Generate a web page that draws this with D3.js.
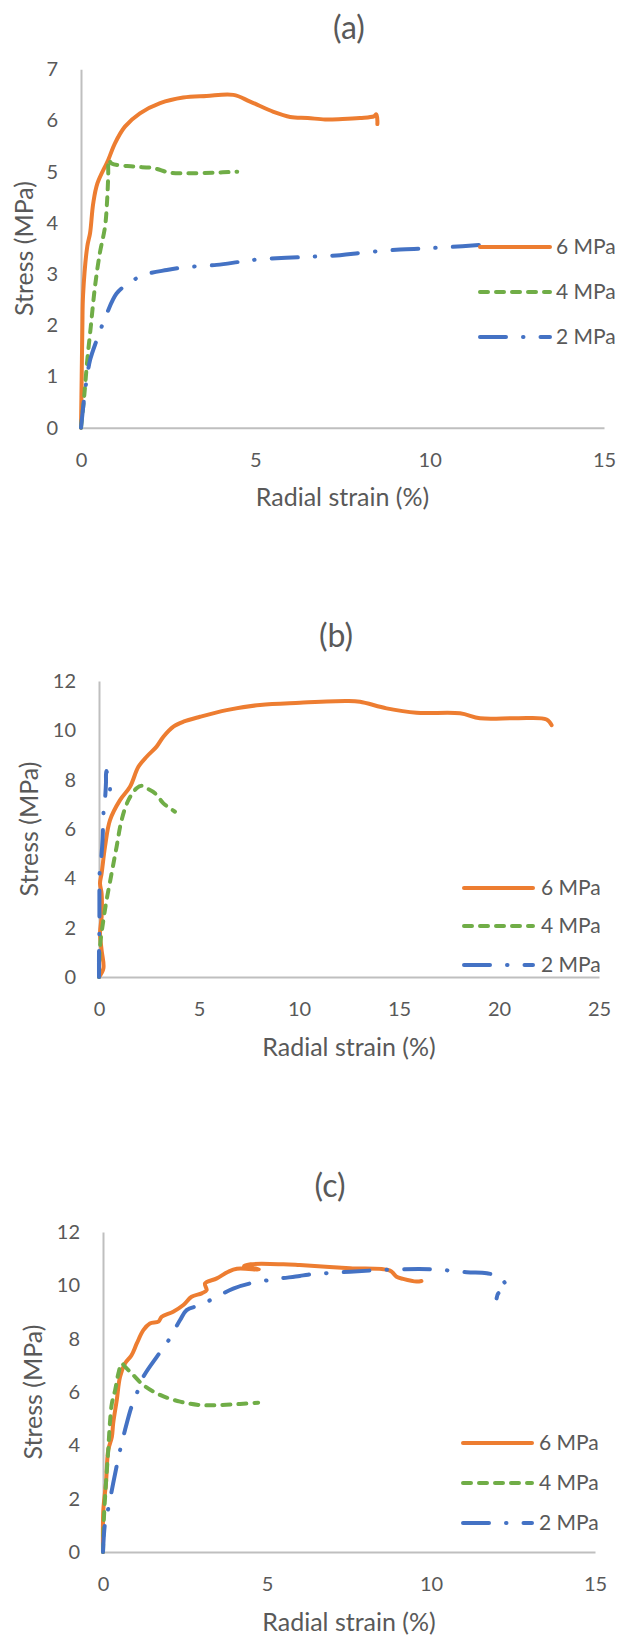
<!DOCTYPE html>
<html>
<head>
<meta charset="utf-8">
<script src="https://cdn.jsdelivr.net/npm/d3@7"></script>
<style>
  html, body { margin: 0; padding: 0; background: #ffffff; }
  svg { display: block; }
  text { font-family: Lato, "Open Sans", sans-serif; fill: #595959; }
</style>
</head>
<body>
<div id="chart"></div>
<script>
// Stress vs radial strain for three confining pressures, three test groups (a), (b), (c)
const panelTitles = ["(a)", "(b)", "(c)"];
const seriesNames = ["6 MPa", "4 MPa", "2 MPa"];
const xAxisTitle = "Radial strain (%)";
const yAxisTitle = "Stress (MPa)";

const xTicksA = [0, 5, 10, 15];
const yTicksA = [0, 1, 2, 3, 4, 5, 6, 7];
const xTicksB = [0, 5, 10, 15, 20, 25];
const yTicksB = [0, 2, 4, 6, 8, 10, 12];
const xTicksC = [0, 5, 10, 15];
const yTicksC = [0, 2, 4, 6, 8, 10, 12];

// (a) [radial strain %, stress MPa]
const a6 = [[0,0],[0.02,1.0],[0.04,2.0],[0.06,2.6],[0.18,3.54],[0.26,3.8],[0.35,4.38],[0.47,4.77],
  [0.78,5.23],[0.97,5.55],[1.26,5.88],[1.69,6.14],[2.27,6.34],[2.93,6.45],[3.6,6.48],[4.37,6.5],
  [4.85,6.37],[5.52,6.17],[6.0,6.07],[6.5,6.05],[7.0,6.02],[7.5,6.03],[8.0,6.05],[8.4,6.08],
  [8.47,6.12],[8.5,6.0],[8.5,5.93]];
const a4 = [[0,0],[0.09,0.6],[0.18,1.32],[0.28,1.97],[0.4,2.75],[0.54,3.41],[0.69,3.93],[0.75,4.45],
  [0.78,4.9],[0.8,5.23],[0.88,5.16],[1.5,5.1],[2.07,5.07],[2.55,4.98],[3.03,4.97],[3.79,4.98],[4.48,5.0]];
const a2 = [[0,0],[0.09,0.57],[0.16,0.93],[0.26,1.32],[0.45,1.71],[0.59,1.97],[0.74,2.23],[1.02,2.62],
  [1.36,2.82],[1.79,2.98],[2.46,3.08],[2.93,3.13],[3.89,3.18],[4.56,3.24],[5.13,3.29],[6.28,3.33],
  [7.43,3.37],[8.1,3.42],[9.15,3.48],[9.82,3.5],[10.58,3.53],[11.44,3.57]];

// (b)
const b6 = [[0,0],[0.22,0.35],[0.13,1.09],[0.05,1.77],[0.13,2.44],[0.13,3.39],[0.05,3.8],[0.13,4.2],
  [0.3,5.28],[0.55,6.36],[1.05,7.17],[1.55,7.71],[1.97,8.52],[2.38,8.93],[2.88,9.34],[3.22,9.74],
  [3.72,10.15],[4.22,10.35],[5.05,10.55],[6.38,10.82],[8.05,11.03],[10.05,11.12],[12.38,11.19],
  [13.05,11.16],[14.38,10.89],[15.88,10.71],[18.05,10.69],[19.05,10.49],[20.88,10.49],[22.38,10.44],
  [22.63,10.21]];
const b4 = [[0,0],[0.05,1.23],[0.22,2.31],[0.38,3.12],[0.63,4.2],[0.88,5.28],[1.13,6.36],[1.47,7.17],
  [1.88,7.65],[2.13,7.75],[2.38,7.65],[2.8,7.45],[3.22,7.04],[3.55,6.84],[3.8,6.7]];
const b2 = [[0,0],[0,1.0],[0.02,2.0],[0.02,3.5],[0.03,4.2],[0.12,4.9],[0.18,5.6],[0.2,6.1],[0.22,6.6],
  [0.3,7.2],[0.35,7.9],[0.35,8.2],[0.37,8.35],[0.5,7.9],[0.55,7.7],[0.55,7.6]];

// (c)
const c6 = [[0,0],[0.01,1.57],[0.09,2.57],[0.16,3.82],[0.27,4.32],[0.31,4.82],[0.42,5.7],[0.52,6.57],
  [0.67,7.07],[0.87,7.38],[1.03,7.82],[1.23,8.32],[1.43,8.57],[1.69,8.64],[1.79,8.82],[2.14,9.01],
  [2.45,9.26],[2.7,9.57],[3.01,9.7],[3.16,9.82],[3.11,10.07],[3.47,10.26],[3.82,10.51],[4.08,10.62],
  [4.75,10.6],[4.3,10.72],[4.5,10.79],[5.5,10.79],[6.0,10.76],[7.53,10.64],[8.75,10.55],[8.95,10.32],
  [9.15,10.24],[9.56,10.14],[9.71,10.16]];
const c4 = [[0,0],[0.03,1.32],[0.09,2.57],[0.16,3.82],[0.21,4.82],[0.27,5.57],[0.37,6.07],[0.47,6.7],
  [0.57,7.07],[0.67,6.95],[0.92,6.64],[1.23,6.26],[1.74,5.89],[2.35,5.64],[2.96,5.51],[3.57,5.51],
  [4.18,5.55],[4.73,5.6]];
const c2 = [[0,0],[0.06,1.07],[0.16,1.63],[0.31,2.57],[0.52,3.82],[0.67,4.57],[0.87,5.45],[1.03,5.95],
  [1.23,6.57],[1.64,7.32],[1.94,7.82],[2.35,8.7],[2.55,9.07],[2.96,9.26],[3.47,9.57],[3.97,9.88],
  [4.48,10.07],[5.19,10.22],[6.0,10.35],[6.25,10.4],[7.53,10.51],[9.05,10.6],[10.07,10.6],[11.09,10.49],
  [11.7,10.45],[12.1,10.32],[12.26,10.07],[12.33,9.88],[12.16,9.76],[12.05,9.7],[12.0,9.51]];

// Line styles per series: solid, dashed, long-dash-dot
const colors = ["#ED7D31", "#70AD47", "#4472C4"];
const dashes = [null, "8,8", "26,17,0.5,17"];
const strokeW = 4;

const W = 620, H = 1639;
const svg = d3.select("#chart").append("svg").attr("width", W).attr("height", H);
svg.append("rect").attr("width", W).attr("height", H).attr("fill", "#fff");

const layouts = [
  { left: 81, right: 604, top: 69.3, bottom: 427.7, titleX: 349, titleY: 28, yTitleX: 24,
    legendY: [247, 292, 337], legendX1: 480, legendX2: 550, legendTextX: 556 },
  { left: 99, right: 599, top: 681, bottom: 977, titleX: 336, titleY: 636, yTitleX: 29,
    legendY: [888, 926, 965], legendX1: 464, legendX2: 533, legendTextX: 541 },
  { left: 103, right: 595, top: 1232, bottom: 1552, titleX: 330, titleY: 1186, yTitleX: 33,
    legendY: [1443, 1483, 1523], legendX1: 463, legendX2: 532, legendTextX: 539 }
];
const xTicksAll = [xTicksA, xTicksB, xTicksC];
const yTicksAll = [yTicksA, yTicksB, yTicksC];
const seriesAll = [[a6, a4, a2], [b6, b4, b2], [c6, c4, c2]];

layouts.forEach((L, i) => {
  const xt = xTicksAll[i], yt = yTicksAll[i];
  const x = d3.scaleLinear().domain([xt[0], xt[xt.length - 1]]).range([L.left, L.right]);
  const y = d3.scaleLinear().domain([yt[0], yt[yt.length - 1]]).range([L.bottom, L.top]);
  const g = svg.append("g");

  // panel title
  g.append("text").attr("x", L.titleX).attr("y", L.titleY).attr("dy", "0.35em")
    .attr("text-anchor", "middle").style("font-size", "32px").text(panelTitles[i]);

  // axes: plain gray lines with labels, no tick marks
  const xAxis = d3.axisBottom(x).tickValues(xt).tickSize(0).tickPadding(22).tickFormat(d3.format("d"));
  const yAxis = d3.axisLeft(y).tickValues(yt).tickSize(0).tickPadding(23).tickFormat(d3.format("d"));
  const gx = g.append("g").attr("transform", `translate(0,${L.bottom})`).call(xAxis);
  const gy = g.append("g").attr("transform", `translate(${L.left},0)`).call(yAxis);
  [gx, gy].forEach(ax => {
    ax.select(".domain").attr("stroke", "#bfbfbf").attr("stroke-width", 2);
    ax.selectAll("text").style("font-size", "20px").attr("fill", "#595959")
      .style("font-family", "Lato, 'Open Sans', sans-serif");
  });
  gx.selectAll("text").attr("dy", "0.35em").attr("y", 32);

  // axis titles
  g.append("text").attr("x", (L.left + L.right) / 2).attr("y", L.bottom + 70).attr("dy", "0.35em")
    .attr("text-anchor", "middle").style("font-size", "25px").text(xAxisTitle);
  g.append("text").attr("transform", `translate(${L.yTitleX},${(L.top + L.bottom) / 2}) rotate(-90)`)
    .attr("dy", "0.35em").attr("text-anchor", "middle").style("font-size", "25px").text(yAxisTitle);

  // curves, smoothed through the read points
  const line = d3.line().curve(d3.curveCatmullRom.alpha(0.5)).x(d => x(d[0])).y(d => y(d[1]));
  seriesAll[i].forEach((data, k) => {
    g.append("path").datum(data).attr("d", line).attr("fill", "none")
      .attr("stroke", colors[k]).attr("stroke-width", strokeW)
      .attr("stroke-linejoin", "round").attr("stroke-linecap", "round")
      .attr("stroke-dasharray", dashes[k]);
  });

  // legend
  seriesNames.forEach((name, k) => {
    const ly = L.legendY[k];
    g.append("line").attr("x1", L.legendX1).attr("x2", L.legendX2).attr("y1", ly).attr("y2", ly)
      .attr("stroke", colors[k]).attr("stroke-width", strokeW).attr("stroke-linecap", "round")
      .attr("stroke-dasharray", dashes[k]);
    g.append("text").attr("x", L.legendTextX).attr("y", ly).attr("dy", "0.35em")
      .style("font-size", "21px").text(name);
  });
});
</script>
</body>
</html>
